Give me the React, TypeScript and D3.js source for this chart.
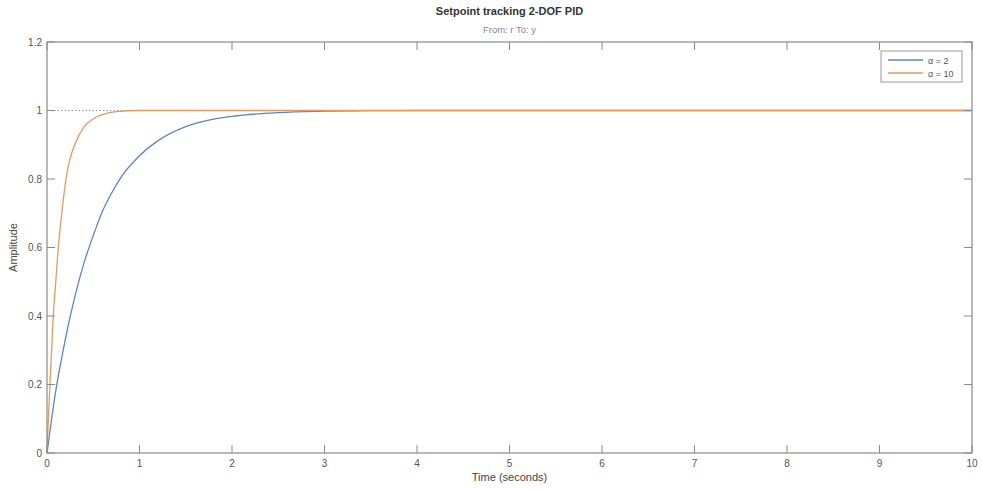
import React from "react";
import * as d3 from "d3";

const timeA2 = [0, 0.05, 0.1, 0.15, 0.2, 0.3, 0.4, 0.5, 0.6, 0.7, 0.8, 1.0, 1.2, 1.5, 1.8, 2.0, 2.5, 3.0, 3.5, 4.0, 5.0, 10.0];
const respA2 = [0, 0.1, 0.19, 0.265, 0.335, 0.455, 0.555, 0.635, 0.706, 0.76, 0.805, 0.868, 0.912, 0.953, 0.975, 0.983, 0.994, 0.998, 0.9995, 1.0, 1.0, 1.0];
const timeA10 = [0, 0.015, 0.032, 0.05, 0.068, 0.095, 0.122, 0.16, 0.205, 0.25, 0.3, 0.4, 0.5, 0.6, 0.75, 1.0, 2.0, 10.0];
const respA10 = [0, 0.1, 0.2, 0.3, 0.4, 0.5, 0.6, 0.7, 0.8, 0.86, 0.9, 0.952, 0.976, 0.988, 0.997, 1.0, 1.0, 1.0];
const xTicks = [0, 1, 2, 3, 4, 5, 6, 7, 8, 9, 10];
const yTicks = [0, 0.2, 0.4, 0.6, 0.8, 1, 1.2];
const seriesNames = ["α = 2", "α = 10"];
const seriesColors = ["#5b86c0", "#e39a62"];

export default function App() {
  const W = 982, H = 489;
  const m = { left: 47, right: 10, top: 42, bottom: 36 };
  const x = d3.scaleLinear().domain([0, 10]).range([m.left, W - m.right]);
  const y = d3.scaleLinear().domain([0, 1.2]).range([H - m.bottom, m.top]);
  const line = d3.line<[number, number]>().x(d => x(d[0])).y(d => y(d[1])).curve(d3.curveMonotoneX);
  const d2 = line(timeA2.map((t, i) => [t, respA2[i]]));
  const d10 = line(timeA10.map((t, i) => [t, respA10[i]]));
  const axisCol = "#8a8a8a";
  const txt = "#555";
  const font = "Arial, 'Liberation Sans', sans-serif";
  const x0 = x(0), x1 = x(10), y0 = y(0), y1 = y(1.2);
  const lg = { x: 881, y: 51, w: 81, h: 31 };
  return (
    <svg width={W} height={H} style={{ position: "absolute", left: 0, top: 0, background: "#fff" }} fontFamily={font}>
      <rect x={0} y={0} width={W} height={H} fill="#fff" />
      <text x={(x0 + x1) / 2} y={15} textAnchor="middle" fontSize={11} fontWeight="bold" fill="#333">Setpoint tracking 2-DOF PID</text>
      <text x={(x0 + x1) / 2} y={33} textAnchor="middle" fontSize={9.5} fill="#888">From: r  To: y</text>
      {/* steady-state dotted */}
      <line x1={x0} x2={x1} y1={y(1)} y2={y(1)} stroke="#999" strokeWidth={1} strokeDasharray="1.5,2" />
      <path d={d2 || ""} fill="none" stroke={seriesColors[0]} strokeWidth={1.3} />
      <path d={d10 || ""} fill="none" stroke={seriesColors[1]} strokeWidth={1.3} />
      {/* box */}
      <rect x={x0} y={y1} width={x1 - x0} height={y0 - y1} fill="none" stroke={axisCol} strokeWidth={1.2} />
      {xTicks.map(t => (
        <g key={"x" + t}>
          <line x1={x(t)} x2={x(t)} y1={y0} y2={y0 - 8} stroke={axisCol} />
          <line x1={x(t)} x2={x(t)} y1={y1} y2={y1 + 8} stroke={axisCol} />
          <text x={x(t)} y={y0 + 14} textAnchor="middle" fontSize={10} fill={txt}>{t}</text>
        </g>
      ))}
      {yTicks.map(t => (
        <g key={"y" + t}>
          <line x1={x0} x2={x0 + 8} y1={y(t)} y2={y(t)} stroke={axisCol} />
          <line x1={x1} x2={x1 - 8} y1={y(t)} y2={y(t)} stroke={axisCol} />
          <text x={x0 - 5} y={y(t) + 3.5} textAnchor="end" fontSize={10} fill={txt}>{t}</text>
        </g>
      ))}
      <text x={(x0 + x1) / 2} y={481} textAnchor="middle" fontSize={11} fill="#444">Time (seconds)</text>
      <text transform={`translate(17,${(y0 + y1) / 2}) rotate(-90)`} textAnchor="middle" fontSize={11} fill="#444">Amplitude</text>
      {/* legend */}
      <rect x={lg.x} y={lg.y} width={lg.w} height={lg.h} fill="#fff" stroke="#999" strokeWidth={1} />
      {seriesNames.map((n, i) => (
        <g key={n}>
          <line x1={lg.x + 7} x2={lg.x + 42} y1={lg.y + 9 + i * 13} y2={lg.y + 9 + i * 13} stroke={seriesColors[i]} strokeWidth={1.3} />
          <text x={lg.x + 47} y={lg.y + 12.5 + i * 13} fontSize={9} fill="#555">{n}</text>
        </g>
      ))}
    </svg>
  );
}
